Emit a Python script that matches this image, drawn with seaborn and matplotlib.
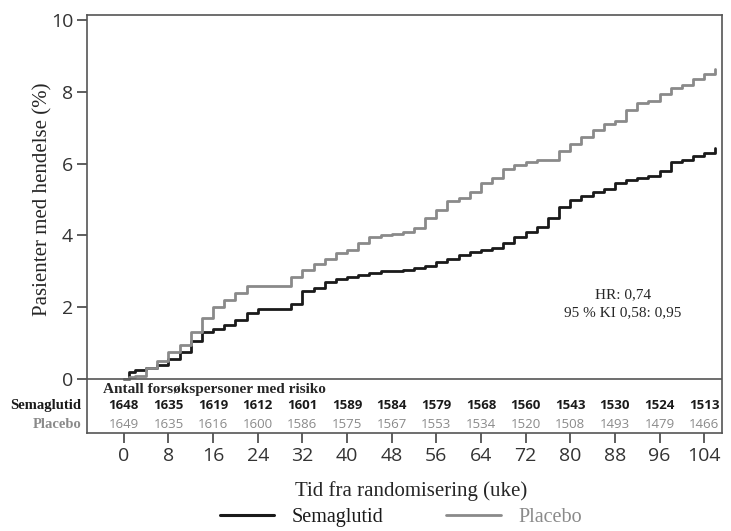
import numpy as np
import pandas as pd
import matplotlib.pyplot as plt
import seaborn as sns

# Cumulative incidence (%), every 2 weeks
weeks = [0, 1, 2, 4, 6, 8, 10, 12, 14, 16, 18, 20, 22, 24, 26, 28, 30, 32, 34, 36,
         38, 40, 42, 44, 46, 48, 50, 52, 54, 56, 58, 60, 62, 64, 66, 68, 70, 72,
         74, 76, 78, 80, 82, 84, 86, 88, 90, 92, 94, 96, 98, 100, 102, 104, 106]
sema = [0, 0.2, 0.25, 0.3, 0.4, 0.55, 0.75, 1.05, 1.3, 1.4, 1.5, 1.65, 1.85, 1.95,
        1.95, 1.95, 2.1, 2.45, 2.55, 2.7, 2.8, 2.85, 2.9, 2.95, 3.0, 3.0, 3.05, 3.1,
        3.15, 3.25, 3.35, 3.45, 3.55, 3.6, 3.65, 3.8, 3.95, 4.1, 4.25, 4.5, 4.8, 5.0,
        5.1, 5.2, 5.3, 5.45, 5.55, 5.6, 5.65, 5.8, 6.05, 6.1, 6.2, 6.3, 6.45]
plac = [0, 0.05, 0.1, 0.3, 0.5, 0.75, 0.95, 1.3, 1.7, 2.0, 2.2, 2.4, 2.6, 2.6,
        2.6, 2.6, 2.85, 3.05, 3.2, 3.35, 3.5, 3.6, 3.8, 3.95, 4.0, 4.05, 4.1, 4.2,
        4.5, 4.7, 4.95, 5.05, 5.2, 5.45, 5.6, 5.85, 5.95, 6.05, 6.1, 6.1, 6.35, 6.55,
        6.75, 6.95, 7.1, 7.2, 7.5, 7.7, 7.75, 7.95, 8.1, 8.2, 8.35, 8.5, 8.65]

# Number at risk table
risk_weeks = [0, 8, 16, 24, 32, 40, 48, 56, 64, 72, 80, 88, 96, 104]
risk_sema = [1648, 1635, 1619, 1612, 1601, 1589, 1584, 1579, 1568, 1560, 1543, 1530, 1524, 1513]
risk_plac = [1649, 1635, 1616, 1600, 1586, 1575, 1567, 1553, 1534, 1520, 1508, 1493, 1479, 1466]

df = pd.concat([
    pd.DataFrame({'Uke': weeks, 'Andel': sema, 'Gruppe': 'Semaglutid'}),
    pd.DataFrame({'Uke': weeks, 'Andel': plac, 'Gruppe': 'Placebo'}),
])

BLACK = '#1a1a1a'
GRAY = '#8a8a8a'
SERIF = ['Liberation Serif', 'DejaVu Serif']
SANS = ['Open Sans', 'DejaVu Sans']

sns.set_style('ticks')
plt.rcParams['font.family'] = SANS

fig = plt.figure(figsize=(7.31, 5.31), dpi=100)
ax = fig.add_axes([87 / 731, 98 / 531, 635 / 731, 418 / 531])

sns.lineplot(data=df, x='Uke', y='Andel', hue='Gruppe',
             palette={'Semaglutid': BLACK, 'Placebo': GRAY},
             drawstyle='steps-post', linewidth=2, legend=False, ax=ax)

ax.set_xlim(-6.6, 107.2)
ax.set_ylim(-1.5, 10.14)
ax.set_xticks(risk_weeks)
ax.set_yticks([0, 2, 4, 6, 8, 10])
ax.tick_params(axis='both', labelsize=14, colors='#333333', length=7, width=1.1, pad=3)
for s in ax.spines.values():
    s.set_color('#555555')
    s.set_linewidth(1.2)
ax.axhline(0, color='#555555', linewidth=1.2)

ax.set_ylabel('Pasienter med hendelse (%)', family=SERIF, fontsize=15)
ax.yaxis.set_label_coords(-0.055, (1.5 + 5) / 11.64)
ax.set_xlabel('Tid fra randomisering (uke)', family=SERIF, fontsize=15)
ax.xaxis.set_label_coords((411 - 87) / 635, -0.115)

# HR annotation
ax.text(89.4, 2.35, 'HR: 0,74', family=SERIF, fontsize=11, ha='center', va='center')
ax.text(89.4, 1.85, '95 % KI 0,58: 0,95', family=SERIF, fontsize=11, ha='center', va='center')

# At-risk table inside the box
ax.text(-3.8, -0.28, 'Antall forsøkspersoner med risiko', family=SERIF, fontsize=11,
        fontweight='bold', ha='left', va='center')
ax.text(-7.6, -0.73, 'Semaglutid', family=SERIF, fontsize=10.5, fontweight='bold',
        ha='right', va='center', color=BLACK, clip_on=False)
ax.text(-7.6, -1.26, 'Placebo', family=SERIF, fontsize=10.5, fontweight='bold',
        ha='right', va='center', color=GRAY, clip_on=False)
for w, a, b in zip(risk_weeks, risk_sema, risk_plac):
    ax.text(w, -0.73, str(a), fontsize=9.5, fontweight='bold', ha='center', va='center',
            color=BLACK)
    ax.text(w, -1.26, str(b), fontsize=9.5, ha='center', va='center', color=GRAY)

# Legend below
handles = [plt.Line2D([], [], color=BLACK, linewidth=2.2),
           plt.Line2D([], [], color=GRAY, linewidth=2)]
leg = fig.legend(handles, ['Semaglutid', 'Placebo'], loc='center',
                 bbox_to_anchor=(401 / 731, 14 / 531), ncol=2, frameon=False,
                 prop={'family': SERIF, 'size': 14.5}, handlelength=2.7,
                 columnspacing=3.1, handletextpad=0.9, borderpad=0.2)
leg.get_texts()[0].set_color(BLACK)
leg.get_texts()[1].set_color(GRAY)

fig.savefig('out.png', dpi=100)
